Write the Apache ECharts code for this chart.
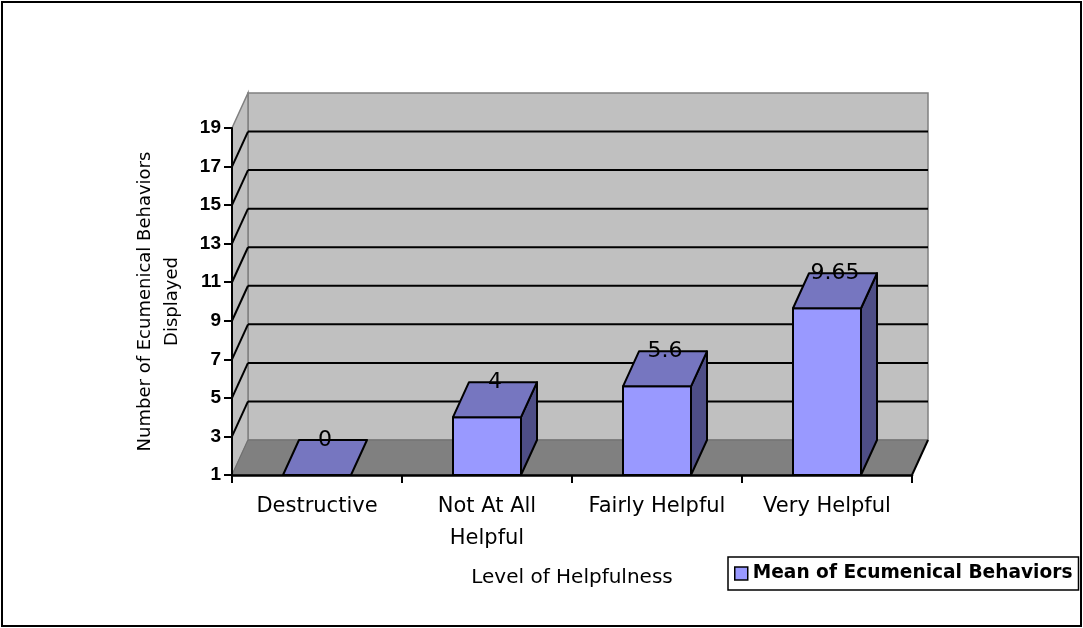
<!DOCTYPE html>
<html>
<head>
<meta charset="utf-8">
<script src="https://cdn.jsdelivr.net/npm/echarts@6/dist/echarts.min.js"></script>
<style>
html, body { margin: 0; padding: 0; background: #fff; }
#chartBox { width: 1083px; height: 628px; }
</style>
</head>
<body>
<div id="chartBox"></div>
<script>
// data
const categories = ['Destructive', 'Not At All\nHelpful', 'Fairly Helpful', 'Very Helpful'];
const meanValues = [0, 4, 5.6, 9.65];
const valueLabels = ['0', '4', '5.6', '9.65'];
const yTicks = [1, 3, 5, 7, 9, 11, 13, 15, 17, 19];
const seriesName = 'Mean of Ecumenical Behaviors';

// depth of the fake 3d box (pixels)
const DX = 16, DY = -35;
const FONT = '"DejaVu Sans", Verdana, sans-serif';

let myChart = echarts.init(document.getElementById('chartBox'));

// walls, floor and back gridlines
function renderWalls (params, api) {
  const cs = params.coordSys;
  const x0 = cs.x, x1 = cs.x + cs.width;
  const yb = api.coord([0, yTicks[0]])[1];
  const yt = api.coord([0, yTicks[yTicks.length - 1]])[1];
  const children = [
    { type: 'polygon', shape: { points: [[x0 + DX, yt + DY], [x1 + DX, yt + DY], [x1 + DX, yb + DY], [x0 + DX, yb + DY]] },
      style: { fill: '#c0c0c0', stroke: '#808080', lineWidth: 1.5 } },
    { type: 'polygon', shape: { points: [[x0, yt], [x0 + DX, yt + DY], [x0 + DX, yb + DY], [x0, yb]] },
      style: { fill: '#c0c0c0', stroke: '#808080', lineWidth: 1.5 } },
    { type: 'polygon', shape: { points: [[x0, yb], [x1, yb], [x1 + DX, yb + DY], [x0 + DX, yb + DY]] },
      style: { fill: '#808080', stroke: '#6e6e6e', lineWidth: 1 } },
    { type: 'line', shape: { x1: x1, y1: yb, x2: x1 + DX, y2: yb + DY },
      style: { stroke: '#000', lineWidth: 2 } }
  ];
  yTicks.slice(1, -1).forEach(function (v) {
    const y = api.coord([0, v])[1];
    children.push({ type: 'line', shape: { x1: x0 + DX, y1: y + DY, x2: x1 + DX, y2: y + DY },
      style: { stroke: '#000', lineWidth: 2 } });
    children.push({ type: 'line', shape: { x1: x0, y1: y, x2: x0 + DX, y2: y + DY },
      style: { stroke: '#000', lineWidth: 2 } });
  });
  return { type: 'group', children: children };
}

// one 3d bar per category
function renderBar (params, api) {
  const i = api.value(0);
  const v = Math.max(api.value(1), yTicks[0]);
  const base = api.coord([i, yTicks[0]]);
  const top = api.coord([i, v]);
  const w = api.size([1, 0])[0] * 0.4;
  const xl = base[0] - w / 2, xr = base[0] + w / 2;
  const yb = base[1], yt = top[1];
  const line = { stroke: '#000', lineWidth: 2, lineJoin: 'round' };
  const children = [];
  if (yb - yt > 0.5) {
    children.push({ type: 'polygon', shape: { points: [[xr, yt], [xr + DX, yt + DY], [xr + DX, yb + DY], [xr, yb]] },
      style: Object.assign({ fill: '#4e4e86' }, line) });
    children.push({ type: 'rect', shape: { x: xl, y: yt, width: w, height: yb - yt },
      style: Object.assign({ fill: '#9999ff' }, line) });
  }
  children.push({ type: 'polygon', shape: { points: [[xl, yt], [xr, yt], [xr + DX, yt + DY], [xl + DX, yt + DY]] },
    style: Object.assign({ fill: '#7676c0' }, line) });
  children.push({ type: 'text', x: base[0] + DX / 2, y: yt + DY,
    style: { text: valueLabels[params.dataIndex], fill: '#000', font: '22px ' + FONT, align: 'center', verticalAlign: 'middle' } });
  return { type: 'group', children: children };
}

myChart.setOption({
  animation: false,
  graphic: [{
    type: 'rect', z: 0,
    shape: { x: 2, y: 2, width: 1079, height: 624 },
    style: { fill: null, stroke: '#000', lineWidth: 2 }
  }],
  grid: { left: 232, right: 171, top: 128, bottom: 153 },
  legend: {
    left: 728, top: 557,
    padding: [7, 6, 7, 6],
    borderColor: '#000', borderWidth: 1.5,
    itemWidth: 13, itemHeight: 13, itemGap: 5,
    data: [{ name: seriesName, icon: 'rect' }],
    itemStyle: { color: '#9999ff', borderColor: '#000', borderWidth: 1.5 },
    textStyle: { fontFamily: FONT, fontWeight: 'bold', fontSize: 18.6, color: '#000', padding: [0, 0, 0, 0] }
  },
  xAxis: {
    type: 'category',
    data: categories,
    z: 5,
    axisLine: { lineStyle: { color: '#000', width: 2.5 } },
    axisTick: { show: true, length: 8, lineStyle: { color: '#000', width: 2 } },
    axisLabel: { interval: 0, color: '#000', fontFamily: FONT, fontSize: 21, lineHeight: 32, margin: 16 },
    name: 'Level of Helpfulness',
    nameLocation: 'middle',
    nameGap: 93,
    nameTextStyle: { color: '#000', fontFamily: FONT, fontSize: 20 }
  },
  yAxis: {
    type: 'value',
    min: 1, max: 19, interval: 2,
    z: 5,
    axisLine: { show: true, lineStyle: { color: '#000', width: 2 } },
    axisTick: { show: true, length: 8, lineStyle: { color: '#000', width: 2 } },
    axisLabel: { color: '#000', fontFamily: '"Liberation Sans", Arial, sans-serif', fontWeight: 'bold', fontSize: 19, margin: 11 },
    splitLine: { show: false },
    name: 'Number of Ecumenical Behaviors\nDisplayed',
    nameLocation: 'middle',
    nameRotate: 90,
    nameGap: 46,
    nameTextStyle: { color: '#000', fontFamily: FONT, fontSize: 18, lineHeight: 27 }
  },
  series: [{
    type: 'custom',
    z: 1,
    silent: true,
    renderItem: renderWalls,
    data: [[0, 1]]
  }, {
    type: 'custom',
    name: seriesName,
    z: 3,
    itemStyle: { color: '#9999ff' },
    renderItem: renderBar,
    encode: { x: 0, y: 1 },
    data: meanValues.map(function (v, i) { return [i, v]; })
  }]
});
</script>
</body>
</html>
